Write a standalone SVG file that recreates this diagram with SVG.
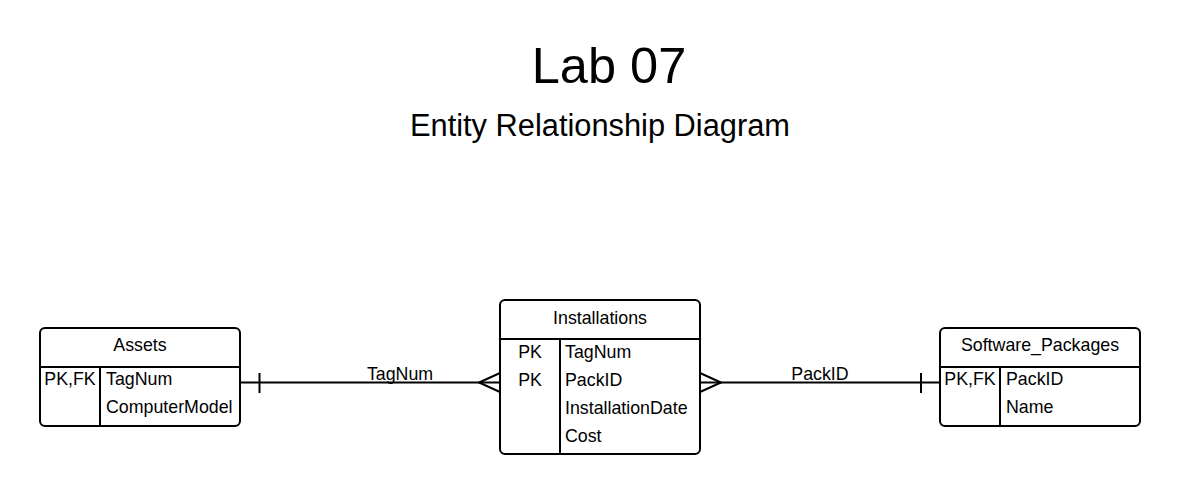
<svg xmlns="http://www.w3.org/2000/svg" width="1180" height="495" viewBox="0 0 1180 495">
<style>
text{font-family:"Liberation Sans",Arial,sans-serif;fill:#000}
.box{fill:#fff;stroke:#000;stroke-width:2}
.ln{stroke:#000;stroke-width:2;fill:none}
.t{font-size:17.8px}
.c{text-anchor:middle}
</style>
<rect width="1180" height="495" fill="#fff"/>
<text x="609" y="83" class="c" font-size="50.5">Lab 07</text>
<text x="600" y="136" class="c" font-size="30.8">Entity Relationship Diagram</text>
<g id="connectors">
<path class="ln" d="M241 382.5H500"/>
<path class="ln" d="M259.5 373V393"/>
<path class="ln" d="M500 373L479 382.5L500 392"/>
<text x="400" y="380" class="t c">TagNum</text>
<path class="ln" d="M700 382.5H940"/>
<path class="ln" d="M921 373V393"/>
<path class="ln" d="M700 373L721 382.5L700 392"/>
<text x="820" y="380" class="t c">PackID</text>
</g>
<g id="assets">
<rect class="box" x="40" y="328" width="200" height="98" rx="5"/>
<path class="ln" d="M40 367H240M100 367V426"/>
<text x="140" y="351" class="t c">Assets</text>
<text x="70" y="385" class="t c">PK,FK</text>
<text x="106" y="385" class="t">TagNum</text>
<text x="106" y="413" class="t">ComputerModel</text>
</g>
<g id="installations">
<rect class="box" x="500" y="300" width="200" height="154" rx="5"/>
<path class="ln" d="M500 339H700M560 339V454"/>
<text x="600" y="323.5" class="t c">Installations</text>
<text x="530" y="357.5" class="t c">PK</text>
<text x="530" y="385.5" class="t c">PK</text>
<text x="565" y="357.5" class="t">TagNum</text>
<text x="565" y="385.5" class="t">PackID</text>
<text x="565" y="413.5" class="t">InstallationDate</text>
<text x="565" y="441.5" class="t">Cost</text>
</g>
<g id="software_packages">
<rect class="box" x="940" y="328" width="200" height="98" rx="5"/>
<path class="ln" d="M940 367H1140M1000 367V426"/>
<text x="1040" y="351" class="t c">Software_Packages</text>
<text x="970" y="385" class="t c">PK,FK</text>
<text x="1006" y="385" class="t">PackID</text>
<text x="1006" y="413" class="t">Name</text>
</g>
</svg>
